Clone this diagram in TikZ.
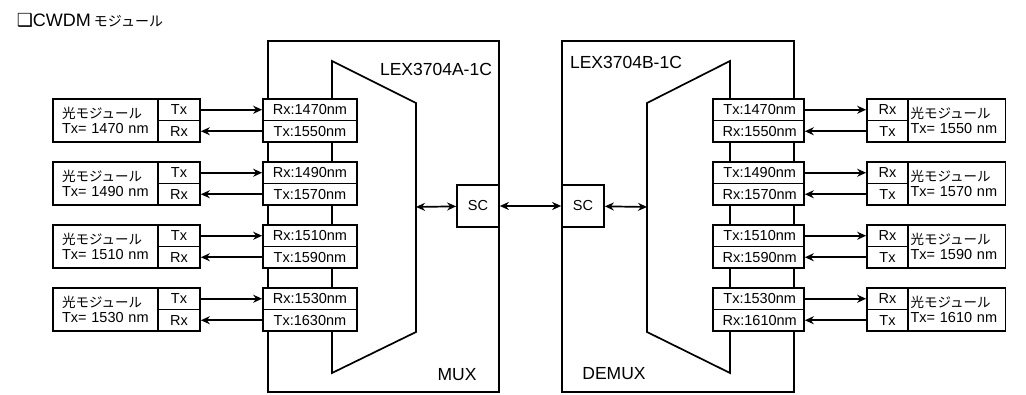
\documentclass[tikz,border=0pt]{standalone}
\usepackage{fontspec}
\setmainfont{Liberation Sans}
\newfontfamily\jpfont{Noto Sans CJK JP}
\newfontfamily\symfont{DejaVu Sans}
\usetikzlibrary{arrows.meta}
\begin{document}
\begin{tikzpicture}[x=1pt,y=-1pt,line width=1.7pt,
  every node/.style={font=\fontsize{14.5}{15}\selectfont,inner sep=0pt},
  cell/.style={draw,fill=white,minimum height=21.5pt},
  chan/.style={cell,minimum width=94pt},
  rchan/.style={cell,minimum width=91pt},
  port/.style={cell,minimum width=42pt},
  modbox/.style={draw,fill=white,minimum height=43pt,align=left},
  scbox/.style={draw,fill=white,minimum width=42pt,minimum height=42pt},
  biglabel/.style={font=\fontsize{17.5}{18}\selectfont},
  arr/.style={-{Stealth[length=9pt,width=8pt]}},
  darr/.style={{Stealth[length=9pt,width=8pt]}-{Stealth[length=9pt,width=8pt]}}]
\useasboundingbox (0,0) rectangle (1026,395);
\node[anchor=west,font=\fontsize{18}{18}\selectfont] (title) at (16,20)
  {{\symfont\bfseries\char"2751}CWDM\,{\jpfont\fontsize{14}{16}\selectfont モジュール}};
% enclosures and mux/demux
\draw[line width=2pt] (268,41) rectangle (499,392);
\draw[line width=2pt] (562,41) rectangle (794,392);
\draw (332,373) -- (332,61) -- (416,103) -- (416,332) -- cycle;
\draw (730,373) -- (730,61) -- (647,103) -- (647,332) -- cycle;
\node[biglabel] (muxname) at (436,69) {LEX3704A-1C};
\node[biglabel] (demuxname) at (626,62) {LEX3704B-1C};
\node[biglabel] (mux) at (457,375) {MUX};
\node[biglabel] (demux) at (614,374) {DEMUX};
% left side
\foreach \i/\a/\b in {0/1470/1550,1/1490/1570,2/1510/1590,3/1530/1630}{
  \pgfmathsetmacro{\t}{99+63*\i}
  \node[chan] (lrx\i) at (310,\t+10.75) {Rx:\a nm};
  \node[chan] (ltx\i) at (310,\t+32.25) {Tx:\b nm};
  \node[modbox,minimum width=105pt,text width=87pt,inner xsep=9pt] (lm\i) at (105.5,\t+21.5)
    {{\jpfont\fontsize{13.5}{15}\selectfont 光モジュール}\\Tx= \a{} nm};
  \node[port] (lmtx\i) at (179,\t+10.75) {Tx};
  \node[port] (lmrx\i) at (179,\t+32.25) {Rx};
  \draw[arr] (lmtx\i) -- (lrx\i);
  \draw[arr] (ltx\i) -- (lmrx\i);
}
% right side
\foreach \i/\a/\b in {0/1470/1550,1/1490/1570,2/1510/1590,3/1530/1610}{
  \pgfmathsetmacro{\t}{99+63*\i}
  \node[rchan] (rtx\i) at (758.5,\t+10.75) {\,Tx:\a nm};
  \node[rchan] (rrx\i) at (758.5,\t+32.25) {\,Rx:\b nm};
  \node[modbox,minimum width=95pt,text width=90pt,inner xsep=5pt] (rm\i) at (955.5,\t+21.5)
    {{\jpfont\fontsize{13.5}{15}\selectfont 光モジュール}\\Tx= \b{} nm};
  \node[port,minimum width=41pt] (rmrx\i) at (887.5,\t+10.75) {Rx};
  \node[port,minimum width=41pt] (rmtx\i) at (887.5,\t+32.25) {Tx};
  \draw[arr] (rtx\i) -- (rmrx\i);
  \draw[arr] (rmtx\i) -- (rrx\i);
}
% connectors
\node[scbox] (lsc) at (478,206) {SC};
\node[scbox] (rsc) at (583,206) {SC};
\coordinate (muxout) at (416,207);
\coordinate (demuxin) at (647,207);
\draw[darr] (muxout) -- (lsc);
\draw[darr] (lsc) -- (rsc);
\draw[darr] (rsc) -- (demuxin);
\end{tikzpicture}
\end{document}
